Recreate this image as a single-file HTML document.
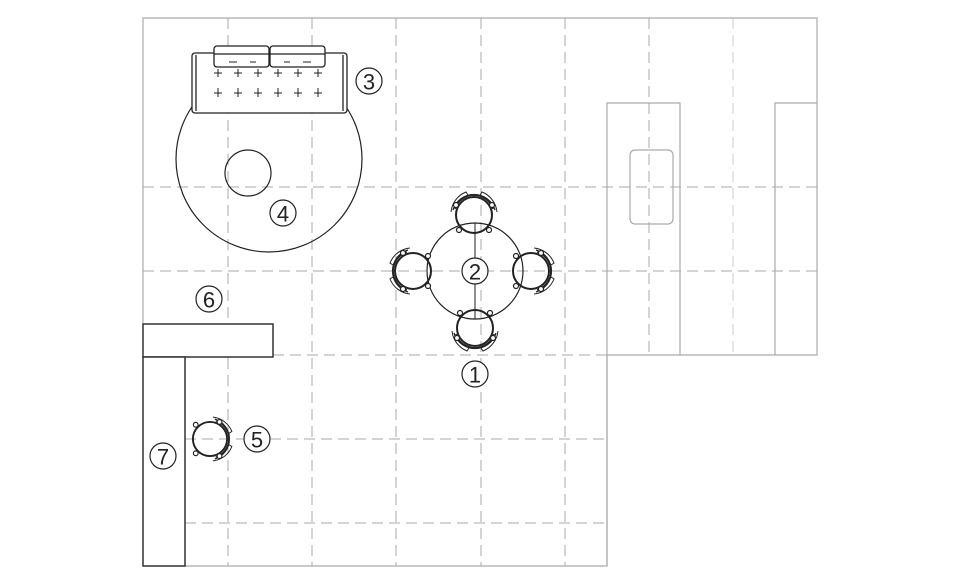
<!DOCTYPE html>
<html><head><meta charset="utf-8"><style>
body{margin:0;background:#fff}
svg{display:block}
text{font-family:"Liberation Sans",sans-serif;font-size:22px;fill:#222;text-anchor:middle;dominant-baseline:central}
</style></head><body>
<svg width="960" height="581" viewBox="0 0 960 581" xmlns="http://www.w3.org/2000/svg">
<defs>
<g id="chair" fill="none" stroke="#222">
  <circle r="18" stroke-width="2"/>
  <path d="M-19,-6 A20,20 0 0 1 19,-6" stroke-width="1.3"/>
  <path d="M-21,-5 A22,22 0 0 1 21,-5" stroke-width="1.3"/>
  <path d="M-23,-3 A24,24 0 0 1 -8,-23 L-6,-20" stroke-width="1"/>
  <path d="M23,-3 A24,24 0 0 0 8,-23 L6,-20" stroke-width="1"/>
  <circle cx="-18" cy="-10" r="2.5" fill="#fff" stroke-width="1.2"/>
  <circle cx="18" cy="-10" r="2.5" fill="#fff" stroke-width="1.2"/>
  <circle cx="-15" cy="15" r="2.5" fill="#fff" stroke-width="1.2"/>
  <circle cx="15" cy="15" r="2.5" fill="#fff" stroke-width="1.2"/>
</g>
</defs>
<g stroke="#aaa" stroke-width="1" stroke-dasharray="11,6">
  <line x1="228" y1="18" x2="228" y2="566"/>
  <line x1="312" y1="18" x2="312" y2="566"/>
  <line x1="396" y1="18" x2="396" y2="566"/>
  <line x1="481" y1="18" x2="481" y2="566"/>
  <line x1="565" y1="18" x2="565" y2="566"/>
  <line x1="649" y1="18" x2="649" y2="355"/>
  <line x1="733" y1="18" x2="733" y2="355" stroke="#ccc"/>
  <line x1="143" y1="187" x2="817" y2="187"/>
  <line x1="143" y1="271" x2="817" y2="271"/>
  <line x1="273" y1="355" x2="607" y2="355"/>
  <line x1="185" y1="439" x2="607" y2="439"/>
  <line x1="185" y1="523" x2="607" y2="523"/>
</g>
<g fill="none" stroke="#aaa" stroke-width="1.2">
  <path d="M143,18 H817 V355 H607 V566 H143 Z"/>
  <path d="M607,566 V103 H680 V355"/>
  <path d="M775,355 V103 H817"/>
  <rect x="630" y="150" width="43" height="74" rx="5"/>
</g>
<g fill="none" stroke="#222" stroke-width="1.2">
  <circle cx="269" cy="159" r="93"/>
  <circle cx="248" cy="173" r="23"/>
</g>
<g stroke="#222" stroke-width="1.3">
  <rect x="192" y="53" width="155" height="60" rx="3" fill="#fff"/>
  <line x1="196" y1="55" x2="196" y2="111"/>
  <line x1="343" y1="55" x2="343" y2="111"/>
  <rect x="214" y="46" width="55" height="21" rx="3" fill="#fff"/>
  <rect x="270" y="46" width="55" height="21" rx="3" fill="#fff"/>
  <line x1="214" y1="54" x2="325" y2="54"/>
  <g stroke-width="1">
    <path d="M229,62h8M250,62h6M284,62h6M303,62h8"/>
    <path d="M214,73h8M218,69v8 M234,73h8M238,69v8 M254,73h8M258,69v8 M274,73h8M278,69v8 M294,73h8M298,69v8 M314,73h8M318,69v8"/>
    <path d="M214,93h8M218,88v9 M234,93h8M238,88v9 M254,93h8M258,88v9 M274,93h8M278,88v9 M294,93h8M298,88v9 M314,93h8M318,88v9"/>
  </g>
</g>
<circle cx="475" cy="271" r="48" fill="none" stroke="#222" stroke-width="1.2"/>
<line x1="475" y1="223" x2="475" y2="319" stroke="#222" stroke-width="1"/>
<use href="#chair" transform="translate(474,215)"/>
<use href="#chair" transform="translate(475,328) rotate(180)"/>
<use href="#chair" transform="translate(413,271) rotate(-90)"/>
<use href="#chair" transform="translate(531,271) rotate(90)"/>
<g fill="#fff" stroke="#333" stroke-width="1.5">
  <rect x="143" y="324" width="130" height="33"/>
  <rect x="143" y="357" width="42" height="209"/>
</g>
<use href="#chair" transform="translate(210,439) rotate(90) scale(0.95)"/>
<g fill="#fff" stroke="#222" stroke-width="1.2">
  <circle cx="369" cy="81" r="13"/>
  <circle cx="283" cy="213" r="13"/>
  <circle cx="475" cy="271" r="13"/>
  <circle cx="475" cy="374" r="13"/>
  <circle cx="209" cy="299" r="13"/>
  <circle cx="257" cy="439" r="13"/>
  <circle cx="163" cy="456" r="13"/>
</g>
<text x="369" y="82">3</text>
<text x="283" y="214">4</text>
<text x="475" y="272">2</text>
<text x="475" y="375">1</text>
<text x="209" y="300">6</text>
<text x="257" y="440">5</text>
<text x="163" y="457">7</text>
</svg>
</body></html>
